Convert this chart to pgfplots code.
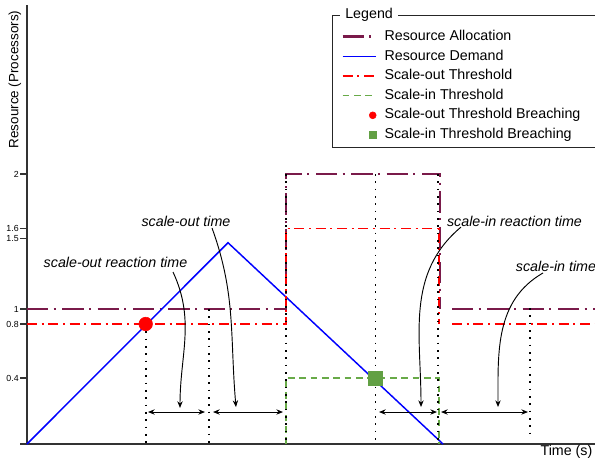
\documentclass[border=0pt]{standalone}
\usepackage{fontspec}
\setmainfont{Liberation Sans}
\usepackage{pgfplots}
\pgfplotsset{compat=1.18}
\usetikzlibrary{arrows.meta}

% x in pixel steps from the y axis, y in diagram units (1 = one processor)
\definecolor{alloc}{RGB}{122,26,74}
\definecolor{demand}{RGB}{0,0,255}
\definecolor{sigreen}{RGB}{104,170,72}
\definecolor{sqgreen}{RGB}{98,160,68}

\tikzset{
  allocline/.style={draw=alloc, line width=2.2pt, dash pattern=on 16pt off 4pt on 1.5pt off 5pt},
  demandline/.style={draw=demand, line width=1.1pt},
  outline/.style={draw=red, line width=1.1pt, dash pattern=on 7.5pt off 3.5pt on 1.5pt off 3.5pt},
  inline/.style={draw=sigreen, line width=1pt, dash pattern=on 5pt off 3.5pt},
  guide/.style={black, line width=1.2pt, dash pattern=on 1.2pt off 4.3pt},
  span/.style={black, line width=0.7pt, {Stealth[length=5pt,width=4pt]}-{Stealth[length=5pt,width=4pt]}},
  callout/.style={black, line width=0.7pt, -{Stealth[length=5pt,width=4pt]}},
}
\pgfplotsset{
  lineimg/.style={legend image code/.code={\draw[#1] (0pt,0pt) -- (24.75pt,0pt); \path (29.25pt,0pt);}},
  dotimg/.style={legend image code/.code={\fill[#1] (22.5pt,0pt) circle (2.6pt); \path (0pt,0pt) (29.25pt,0pt);}},
  squareimg/.style={legend image code/.code={\fill[#1] (19.9pt,-2.6pt) rectangle (25.1pt,2.6pt); \path (0pt,0pt) (29.25pt,0pt);}},
}

\begin{document}
\begin{tikzpicture}
\begin{axis}[
    name=ax,
    width=426pt, height=329.25pt, scale only axis,
    xmin=0, xmax=568, ymin=0, ymax=3.252,
    axis lines=left,
    axis line style={-, black!80, line width=0.8pt},
    xtick=\empty,
    ytick={0,0.489,0.889,1,1.519,1.595,2},
    yticklabels={,0.4,0.8,1,1.5,1.6,2},
    tick align=outside,
    major tick length=5pt,
    tick style={black!80, line width=0.8pt},
    yticklabel style={font=\fontsize{6.6}{7}\selectfont, inner sep=1pt},
    /pgf/number format/assume math mode=true,
    clip=false,
    legend style={at={(axis cs:310,3.099)}, anchor=north west, draw=none, fill=none,
        font=\fontsize{10.7}{12}\selectfont, row sep=2.2pt,
        nodes={inner sep=1pt, text height=8pt, text depth=2.5pt},
        cells={anchor=west}},
]
% resource allocation
\addplot[allocline, lineimg=allocline]
    coordinates {(0,1) (259,1) (259,2) (413,2) (413,1)};
% resource demand
\addplot[demandline, lineimg=demandline]
    coordinates {(0,0) (201,1.491) (416,0)};
% scale-out threshold
\addplot[outline, lineimg=outline]
    coordinates {(0,0.889) (259,0.889) (259,1.595) (412,1.595) (412,0.889)};
% scale-in threshold
\addplot[inline, lineimg=inline]
    coordinates {(259,0) (259,0.489) (412,0.489) (412,0)};

\addplot[allocline, forget plot] coordinates {(425,1) (568,1)};
\addplot[outline, forget plot] coordinates {(425,0.889) (568,0.889)};

% dotted guides
\addplot[guide, forget plot] coordinates {(118.7,0.889) (118.7,0)};
\addplot[guide, forget plot] coordinates {(182,1) (182,0)};
\addplot[guide, forget plot] coordinates {(259,2) (259,0)};
\addplot[guide, forget plot] coordinates {(348.5,2) (348.5,0)};
\addplot[guide, forget plot] coordinates {(411,2) (411,0)};
\addplot[guide, forget plot] coordinates {(503,1.007) (503,0.044)};

% breaching points
\addplot[only marks, mark=*, mark size=5.1pt, color=red, dotimg=red]
    coordinates {(118.7,0.889)};
\addplot[only marks, mark=square*, mark size=5.2pt, color=sqgreen, squareimg=sqgreen]
    coordinates {(348.5,0.489)};

\legend{Resource Allocation, Resource Demand, Scale-out Threshold, Scale-in Threshold,
    Scale-out Threshold Breaching, Scale-in Threshold Breaching}

% time spans
\draw[span] (axis cs:121,0.237) -- (axis cs:178,0.237);
\draw[span] (axis cs:186,0.237) -- (axis cs:256,0.237);
\draw[span] (axis cs:352,0.237) -- (axis cs:410,0.237);
\draw[span] (axis cs:414,0.237) -- (axis cs:501,0.237);

% callouts
\begin{scope}[font=\fontsize{10.7}{12}\selectfont\itshape]
\node at (axis cs:88.5,1.348) {scale-out reaction time};
\node at (axis cs:159,1.652) {scale-out time};
\node at (axis cs:487.5,1.652) {scale-in reaction time};
\node at (axis cs:529,1.319) {scale-in time};
\end{scope}
\draw[callout] (axis cs:146,1.274) to[out=-65,in=90] (axis cs:153,0.267);
\draw[callout] (axis cs:185,1.600) to[out=-70,in=95] (axis cs:209,0.274);
\draw[callout] (axis cs:434,1.607) to[out=-140,in=90] (axis cs:394,0.274);
\draw[callout] (axis cs:516,1.267) to[out=-150,in=90] (axis cs:471,0.274);

% legend frame
\draw[black!85, line width=0.7pt] (axis cs:305,3.178) rectangle (axis cs:600,2.2);
\node[fill=white, anchor=west, inner xsep=3.75pt, inner ysep=1pt,
    font=\fontsize{10.7}{12}\selectfont] at (axis cs:313,3.178) {Legend};

% axis labels
\node[rotate=90, font=\fontsize{10.1}{12}\selectfont] at (axis cs:-12,2.70) {Resource (Processors)};
\node[font=\fontsize{10.7}{12}\selectfont] at (axis cs:539.5,-0.059) {Time (s)};
\end{axis}
\pgfresetboundingbox
\path ([shift={(-20.25pt,-9.75pt)}]ax.south west) rectangle ([shift={(0pt,3.75pt)}]ax.north east);
\end{tikzpicture}
\end{document}
